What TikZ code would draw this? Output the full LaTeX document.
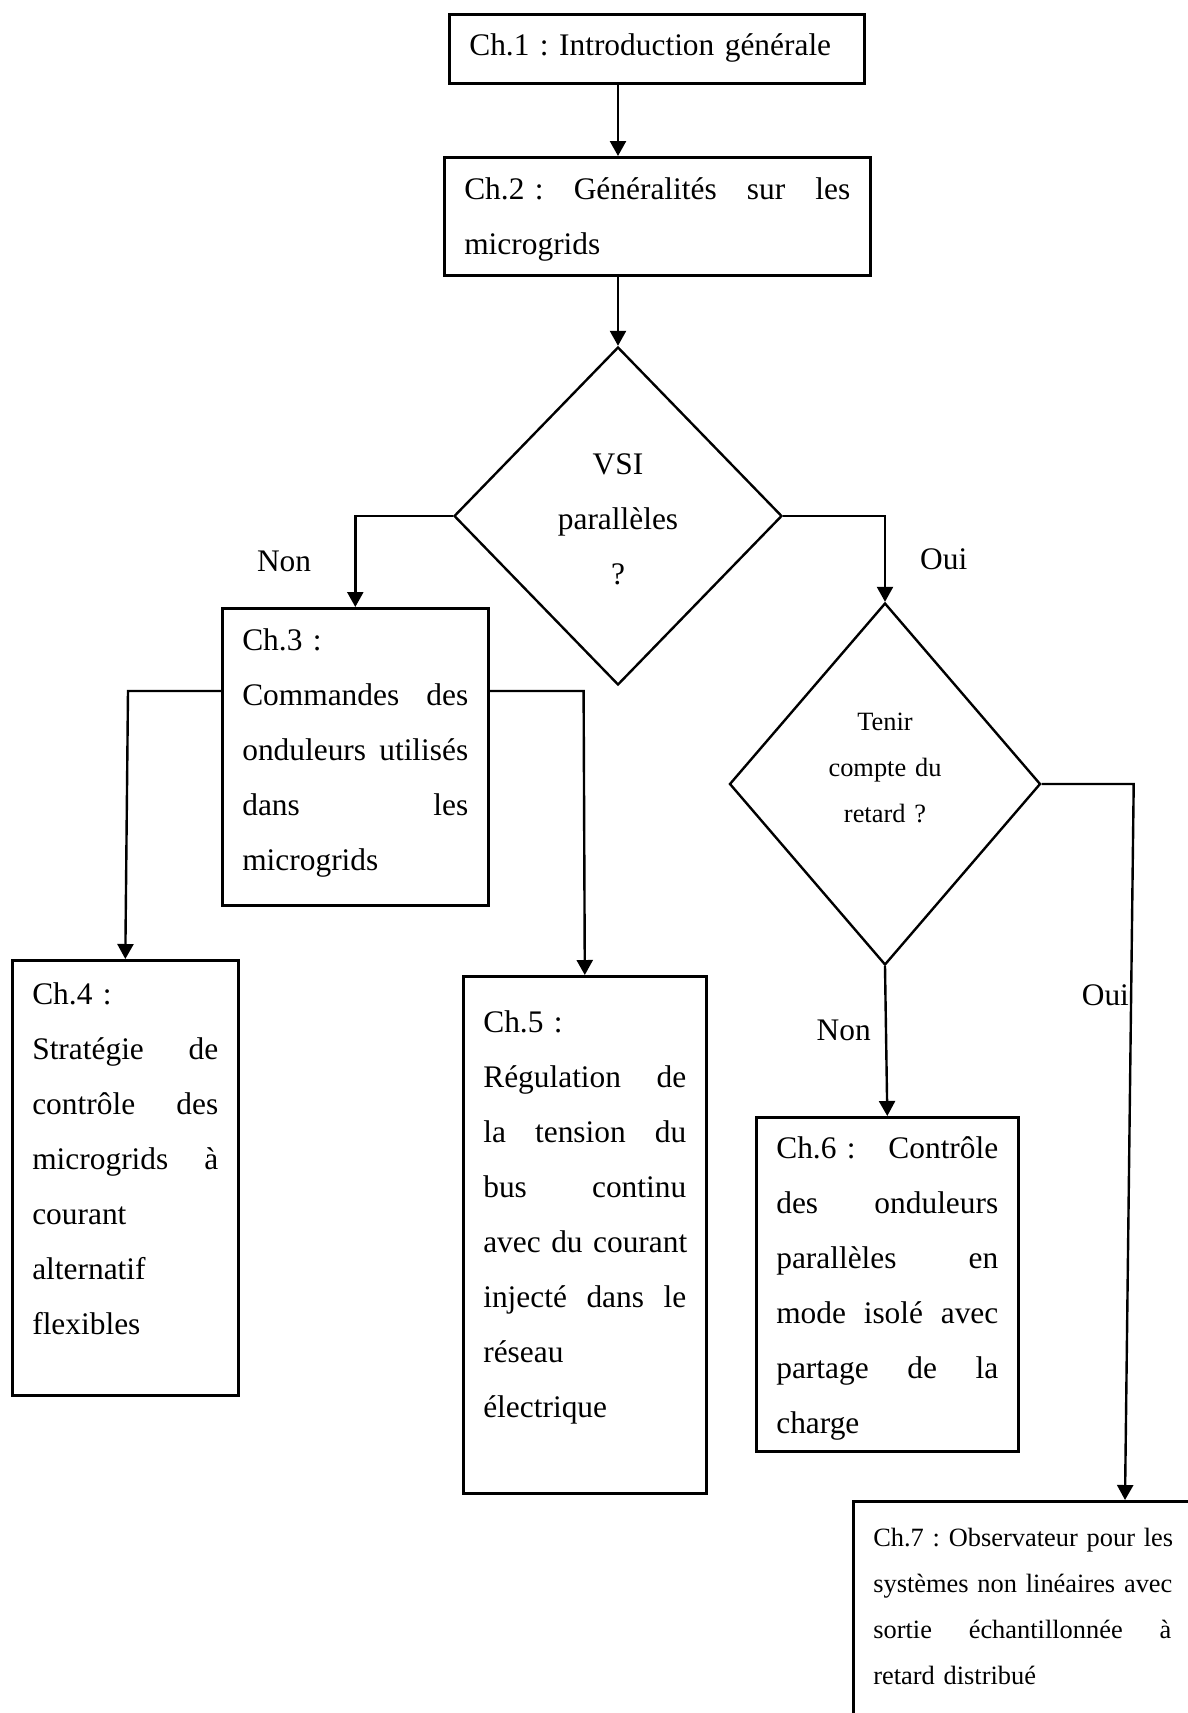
\documentclass[tikz,border=0pt]{standalone}
\usepackage{fontspec}
\setmainfont{Liberation Serif}
\usetikzlibrary{arrows.meta}
\usetikzlibrary{shapes.geometric}

\frenchspacing
\newcommand{\bigtxt}{\fontsize{31.4}{55}\selectfont}
\newcommand{\smalltxt}{\fontsize{26.4}{46}\selectfont}
\newcommand{\jline}[1]{\leavevmode\hbox to\linewidth{#1}}

\begin{document}
\begin{tikzpicture}[x=1pt,y=-1pt,
	chbox/.style={draw,line width=2.6pt,anchor=north west,inner xsep=20pt,inner ysep=0pt,align=left,font=\bigtxt},
	decision/.style={draw,shape=diamond,line width=2.4pt,inner sep=0pt,align=center,font=\bigtxt},
	arr/.style={line width=2.4pt,-{Triangle[length=15pt,width=16pt]}},
	lab/.style={font=\bigtxt,inner sep=0pt}]
	
	\useasboundingbox (0,0) rectangle (1188,1713);
	\clip (0,0) rectangle (1188,1713);
	
	\node[chbox,text width=375pt,text height=41.5pt,text depth=27.5pt] (ch1) at (448,13) {Ch.1 : Introduction générale};
	\node[chbox,text width=386pt,text height=42pt,text depth=76pt] (ch2) at (443,156) {\jline{Ch.2 : \hfill Généralités \hfill sur \hfill les}\\microgrids};
	
	\node[decision,text width=140pt,text height=16pt,text depth=100pt,minimum width=328pt,minimum height=338pt] (d1) at (618,516) {VSI\\parallèles\\?};
	
	\node[chbox,text width=226pt,text height=42pt,text depth=255pt] (ch3) at (221,607) {Ch.3 :\\\jline{Commandes \hfill des}\\\jline{onduleurs \hfill utilisés}\\\jline{dans \hfill les}\\microgrids};
	\node[chbox,text width=186pt,text height=44pt,text depth=391pt] (ch4) at (11,959) {Ch.4 :\\\jline{Stratégie \hfill de}\\\jline{contrôle \hfill des}\\\jline{microgrids \hfill à}\\courant\\alternatif\\flexibles};
	\node[chbox,text width=203pt,text height=56pt,text depth=461pt] (ch5) at (462,975) {Ch.5 :\\\jline{Régulation \hfill de}\\\jline{la \hfill tension \hfill du}\\\jline{bus \hfill continu}\\\jline{avec \hfill du \hfill courant}\\\jline{injecté \hfill dans \hfill le}\\réseau\\électrique};
	
	\node[decision,font=\smalltxt,text width=130pt,text height=12pt,text depth=120pt,minimum width=311pt,minimum height=362pt] (d2) at (885,784) {Tenir\\compte du\\retard ?};
	
	\node[chbox,text width=222pt,text height=41pt,text depth=293pt] (ch6) at (755,1116) {\jline{Ch.6 : \hfill Contrôle}\\\jline{des \hfill onduleurs}\\\jline{parallèles \hfill en}\\\jline{mode \hfill isolé \hfill avec}\\\jline{partage \hfill de \hfill la}\\charge};
	\node[chbox,font=\smalltxt,text width=298pt,text height=45pt,text depth=185pt] (ch7) at (852,1500) {\jline{Ch.7 : \hfill Observateur \hfill pour \hfill les}\\\jline{systèmes \hfill non \hfill linéaires \hfill avec}\\\jline{sortie \hfill échantillonnée \hfill à}\\retard distribué};
	
	\draw[arr] (ch1.south -| d1) -- (ch2.north -| d1);
	\draw[arr] (ch2.south -| d1) -- (d1.north);
	\draw[arr] (d1.west) -| node[lab,pos=.75,left=43pt] {Non} (ch3.north);
	\draw[arr] (d1.east) -| node[lab,pos=.75,right=34pt] {Oui} (d2.north);
	\draw[arr] ([yshift=-84pt]ch3.north west) -- ++(-93,0) -- (ch4.north);
	\draw[arr] ([yshift=-84pt]ch3.north east) -- ++(94,0) -- (ch5.north);
	\draw[arr] (d2.south) -- node[lab,pos=.43,left=14pt] {Non} (ch6.north);
	\draw[arr] (d2.east) -- ++(92,0) -- node[lab,pos=.295,left=1pt] {Oui} ([xshift=273pt]ch7.north west);
\end{tikzpicture}
\end{document}
